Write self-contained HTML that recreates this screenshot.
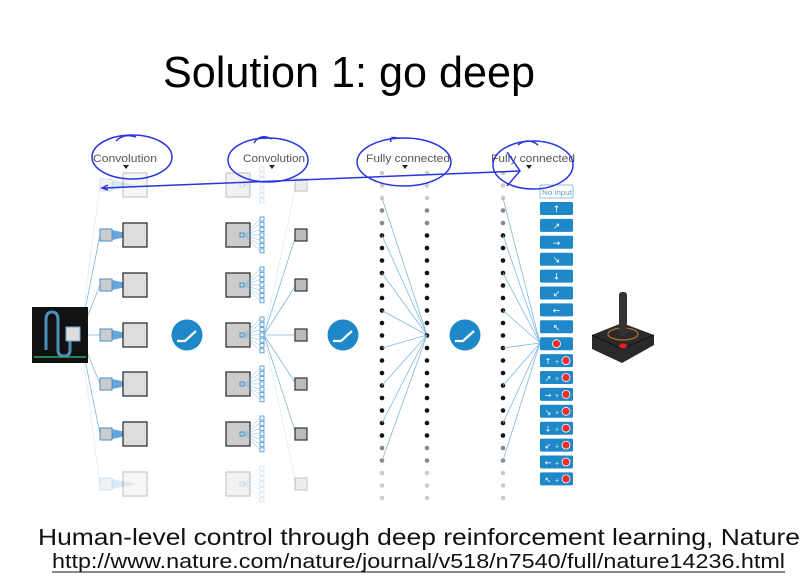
<!DOCTYPE html>
<html><head><meta charset="utf-8"><style>
html,body{margin:0;padding:0;background:#fff;width:811px;height:587px;overflow:hidden}
svg{display:block}
</style></head><body>
<svg id="s" width="811" height="587" viewBox="0 0 811 587" xmlns="http://www.w3.org/2000/svg" font-family="Liberation Sans, sans-serif">
<text x="163" y="87" font-size="44" textLength="372" lengthAdjust="spacingAndGlyphs" fill="#000">Solution 1: go deep</text>
<g font-size="11" fill="#555">
<text x="93" y="162" textLength="64" lengthAdjust="spacingAndGlyphs">Convolution</text>
<text x="243" y="162" textLength="62" lengthAdjust="spacingAndGlyphs">Convolution</text>
<text x="366" y="162" textLength="84" lengthAdjust="spacingAndGlyphs">Fully connected</text>
<text x="491" y="162" textLength="84" lengthAdjust="spacingAndGlyphs">Fully connected</text>
</g>
<g fill="#222">
<path d="M123 165h6l-3 4z"/><path d="M269 165h6l-3 4z"/><path d="M402 165h6l-3 4z"/><path d="M526 165h6l-3 4z"/>
</g>
<g id="net"></g>
<!-- input image -->
<rect x="32" y="307" width="56" height="56" fill="#111"/>
<path d="M46 350V320q0-8 6-8t6 8v30q0 6 6 6t6-6v-12" stroke="#4a8fc0" stroke-width="3" fill="none"/>
<rect x="66" y="327" width="14" height="14" fill="#ddd" stroke="#6aa6d6"/>
<line x1="34" y1="357" x2="86" y2="357" stroke="#3a6" stroke-width="1.5"/>
<!-- relu circles -->
<g fill="#1e88c8">
<circle cx="187" cy="335" r="15.5"/><circle cx="343" cy="335" r="15.5"/><circle cx="465" cy="335" r="15.5"/>
</g>
<g stroke="#fff" stroke-width="2.2" fill="none">
<path d="M177 341h8l11-10"/><path d="M333 341h8l11-10"/><path d="M455 341h8l11-10"/>
</g>
<!-- joystick -->
<path d="M592 335l30-12 32 12v10l-32 18-30-14z" fill="#2a2a2a"/>
<path d="M592 335l30 14 32-14" stroke="#111" fill="none"/>
<ellipse cx="623" cy="334" rx="15" ry="6" fill="none" stroke="#b8742a" stroke-width="1.2"/>
<rect x="619" y="292" width="8" height="44" rx="3" fill="#333"/>
<ellipse cx="623" cy="346" rx="4" ry="2.5" fill="#e02020"/>
<text x="542" y="195" font-size="7" fill="#5aa0d0" textLength="30" lengthAdjust="spacingAndGlyphs">No input</text>
<!-- pen annotations -->
<g stroke="#2a35e0" stroke-width="1.5" fill="none">
<ellipse cx="132" cy="157" rx="40" ry="22"/>
<path d="M116 141q8-8 20-4"/>
<ellipse cx="268" cy="160" rx="40" ry="22"/>
<path d="M254 143q6-10 18-4"/>
<ellipse cx="404" cy="162" rx="47" ry="24"/>
<path d="M391 142q-2-6 6-4"/>
<ellipse cx="533" cy="165" rx="40" ry="24"/>
<path d="M518 145q10-8 20 0"/>
<path d="M104 188 Q300 180 520 171"/>
<path d="M507 152 L520 171 L507 186"/>
<path d="M108 185l-6 3 6 2"/>
</g>
<text x="38" y="545" font-size="23" fill="#111" textLength="762" lengthAdjust="spacingAndGlyphs">Human-level control through deep reinforcement learning, Nature</text>
<text x="52" y="568" font-size="20" fill="#111" textLength="733" lengthAdjust="spacingAndGlyphs">http://www.nature.com/nature/journal/v518/n7540/full/nature14236.html</text>
<line x1="52" y1="572" x2="785" y2="572" stroke="#111" stroke-width="1"/>
</svg>
<script>
var g=document.getElementById('net'),h='';
var rows=[185,235,285,335,384,434,484];
function op(i){return (i==0||i==6)?0.25:1}
var LB='#7fb8dd';
rows.forEach(function(y,i){var o=op(i);
 // input -> small squares
 h+='<line x1="80" y1="335" x2="100" y2="'+y+'" stroke="'+LB+'" stroke-width="0.8" opacity="'+o+'"/>';
 h+='<polygon points="112,'+(y-5)+' 136,'+y+' 112,'+(y+5)+'" fill="#3f8fcf" opacity="'+(o*0.8)+'"/>';
 h+='<rect x="100" y="'+(y-6)+'" width="12" height="12" fill="#ccc" stroke="#4a90c8" opacity="'+o+'"/>';
 h+='<rect x="123" y="'+(y-12)+'" width="24" height="24" fill="#ddd" stroke="#333" stroke-width="1.3" opacity="'+o+'"/>';
 // conv2
 h+='<rect x="226" y="'+(y-12)+'" width="24" height="24" fill="#ccc" stroke="#333" stroke-width="1.3" opacity="'+o+'"/>';
 h+='<rect x="240" y="'+(y-2)+'" width="4" height="4" fill="none" stroke="#3f8fcf" opacity="'+o+'"/>';
 for(var k=0;k<7;k++){var yy=y-16+k*5.3;
  h+='<line x1="244" y1="'+y+'" x2="260" y2="'+yy+'" stroke="'+LB+'" stroke-width="0.5" opacity="'+o+'"/>';
  h+='<rect x="260" y="'+(yy-2)+'" width="4" height="4" fill="#fff" stroke="#3f8fcf" stroke-width="0.8" opacity="'+o+'"/>';}
 h+='<line x1="264" y1="335" x2="296" y2="'+y+'" stroke="'+LB+'" stroke-width="0.8" opacity="'+o+'"/>';
 h+='<rect x="295" y="'+(y-6)+'" width="12" height="12" fill="#bbb" stroke="#333" stroke-width="1.2" opacity="'+o+'"/>';
});
// FC dots
for(var i=0;i<27;i++){var y=173+i*12.5;var c=(i<3||i>23)?'#ccc':((i<5||i>21)?'#888':'#111');
 [382,427,503].forEach(function(x){h+='<circle cx="'+x+'" cy="'+y+'" r="2.3" fill="'+c+'"/>'});
 if(i%3==2&&i>1&&i<26){h+='<line x1="382" y1="'+y+'" x2="427" y2="335" stroke="'+LB+'" stroke-width="0.8"/>';
  h+='<line x1="503" y1="'+y+'" x2="540" y2="343" stroke="'+LB+'" stroke-width="0.8"/>';}
}
// buttons
var ar=['↑','↗','→','↘','↓','↙','←','↖'];
h+='<rect x="540" y="185" width="33" height="13" rx="1.5" fill="#fff" stroke="#8cc0e0"/>';
for(var j=0;j<17;j++){var y=202+j*16.9;
 h+='<rect x="540" y="'+y+'" width="33" height="13" rx="1.5" fill="#1e88c8"/>';
 if(j<8)h+='<text x="556.5" y="'+(y+10)+'" font-size="9" fill="#fff" text-anchor="middle" font-family="DejaVu Sans">'+ar[j]+'</text>';
 else if(j==8)h+='<circle cx="556.5" cy="'+(y+6.5)+'" r="4" fill="#e53030" stroke="#fff" stroke-width="0.8"/>';
 else{h+='<text x="548" y="'+(y+10)+'" font-size="8" fill="#fff" text-anchor="middle" font-family="DejaVu Sans">'+ar[j-9]+'</text><text x="557" y="'+(y+10)+'" font-size="7" fill="#cfe" text-anchor="middle">+</text><circle cx="566" cy="'+(y+6.5)+'" r="4" fill="#e53030" stroke="#fff" stroke-width="0.8"/>';}
}
g.innerHTML=h;
</script>
</body></html>
